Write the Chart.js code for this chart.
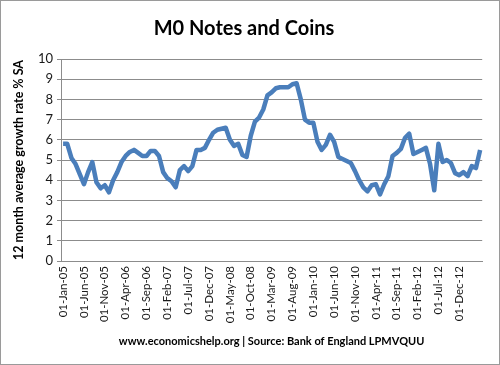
<!DOCTYPE html>
<html>
<head>
<meta charset="utf-8">
<script src="https://cdn.jsdelivr.net/npm/chart.js@4"></script>
<style>
  body { margin: 0; background: #fff; }
  #wrap { width: 500px; height: 365px; box-sizing: border-box; border: 1px solid #9a9a9a; }
</style>
</head>
<body>
<div id="wrap"><canvas id="myChart" width="498" height="363"></canvas></div>
<script>
// Monthly series, Jan 2005 onwards
var startYear = 2005;
var monthNames = ['Jan', 'Feb', 'Mar', 'Apr', 'May', 'Jun', 'Jul', 'Aug', 'Sep', 'Oct', 'Nov', 'Dec'];

// 12 month average growth rate % SA
var growth = [
  5.8, 5.8, 5.1, 4.8, 4.3, 3.8, 4.4, 4.9, 3.9, 3.6, 3.75, 3.4,
  4.0, 4.4, 4.9, 5.2, 5.4, 5.5, 5.35, 5.2, 5.2, 5.45, 5.45, 5.2,
  4.4, 4.1, 3.95, 3.65, 4.5, 4.7, 4.45, 4.7, 5.5, 5.5, 5.6, 6.0,
  6.35, 6.5, 6.55, 6.6, 6.0, 5.7, 5.8, 5.25, 5.15, 6.2, 6.9, 7.1,
  7.5, 8.2, 8.35, 8.55, 8.6, 8.6, 8.6, 8.75, 8.8, 8.0, 7.0, 6.85,
  6.85, 5.9, 5.5, 5.75, 6.25, 5.9, 5.15, 5.05, 4.95, 4.85, 4.45, 4.0,
  3.65, 3.45, 3.75, 3.8, 3.3, 3.8, 4.2, 5.2, 5.35, 5.55, 6.1, 6.3,
  5.3, 5.4, 5.5, 5.6, 4.8, 3.5, 5.8, 4.9, 5.0, 4.85, 4.35, 4.25,
  4.4, 4.2, 4.7, 4.6, 5.5
];

var yTicks = [0, 1, 2, 3, 4, 5, 6, 7, 8, 9, 10];

// category labels like 01-Jan-05
var labels = [];
for (var i = 0; i < growth.length; i++) {
  var m = i % 12;
  var y = startYear + Math.floor(i / 12);
  labels.push('01-' + monthNames[m] + '-' + String(y).slice(2));
}

var fontFam = 'Lato, "Open Sans", sans-serif';

var frame = {
  id: 'frame',
  beforeDraw: function (chart) {
    var c = chart.ctx;
    c.save();
    c.fillStyle = '#fff';
    c.fillRect(0, 0, chart.width, chart.height);
    c.restore();
  }
};

var ctx = document.getElementById('myChart').getContext('2d');

var myLineChart = new Chart(ctx, {
  type: 'line',
  data: {
    labels: labels,
    datasets: [{
      label: 'M0',
      data: growth,
      borderColor: '#4a7ebb',
      borderWidth: 4.5,
      pointRadius: 0,
      tension: 0,
      borderJoinStyle: 'round',
      fill: false
    }]
  },
  options: {
    responsive: false,
    animation: false,
    layout: { padding: { left: 4, right: 16, top: 0, bottom: 4 } },
    plugins: {
      legend: { display: false },
      tooltip: { enabled: false },
      title: {
        display: true,
        text: 'M0 Notes and Coins',
        color: '#000',
        font: { family: fontFam, size: 20, weight: 'bold' },
        padding: { top: 16, bottom: 18 }
      }
    },
    scales: {
      x: {
        type: 'category',
        offset: true,
        afterFit: function (s) { s.height = 99; },
        grid: { display: false, drawTicks: false },
        border: { display: true, color: '#8c8c8c', width: 1 },
        ticks: {
          autoSkip: false,
          minRotation: 90,
          maxRotation: 90,
          padding: 5,
          color: '#1a1a1a',
          font: { family: fontFam, size: 11.5 },
          callback: function (val, idx) {
            return (idx % 5 === 0 && idx < 100) ? labels[idx] : '';
          }
        },
        title: {
          display: true,
          text: 'www.economicshelp.org | Source: Bank of England LPMVQUU',
          color: '#000',
          font: { family: fontFam, size: 11, weight: 'bold' },
          padding: { top: 0, bottom: 12 }
        }
      },
      y: {
        min: 0,
        max: 10,
        afterFit: function (s) { s.width = 56; },
        afterBuildTicks: function (axis) {
          axis.ticks = yTicks.map(function (v) { return { value: v }; });
        },
        grid: { color: '#8c8c8c', tickLength: 4, lineWidth: 1 },
        border: { display: true, color: '#8c8c8c' },
        ticks: {
          padding: 4,
          color: '#1a1a1a',
          font: { family: fontFam, size: 13 }
        },
        title: {
          display: true,
          text: '12 month average growth rate % SA',
          color: '#000',
          font: { family: fontFam, size: 12.5, weight: 700 },
          padding: { top: 6, bottom: 0 }
        }
      }
    }
  },
  plugins: [frame]
});
</script>
</body>
</html>
